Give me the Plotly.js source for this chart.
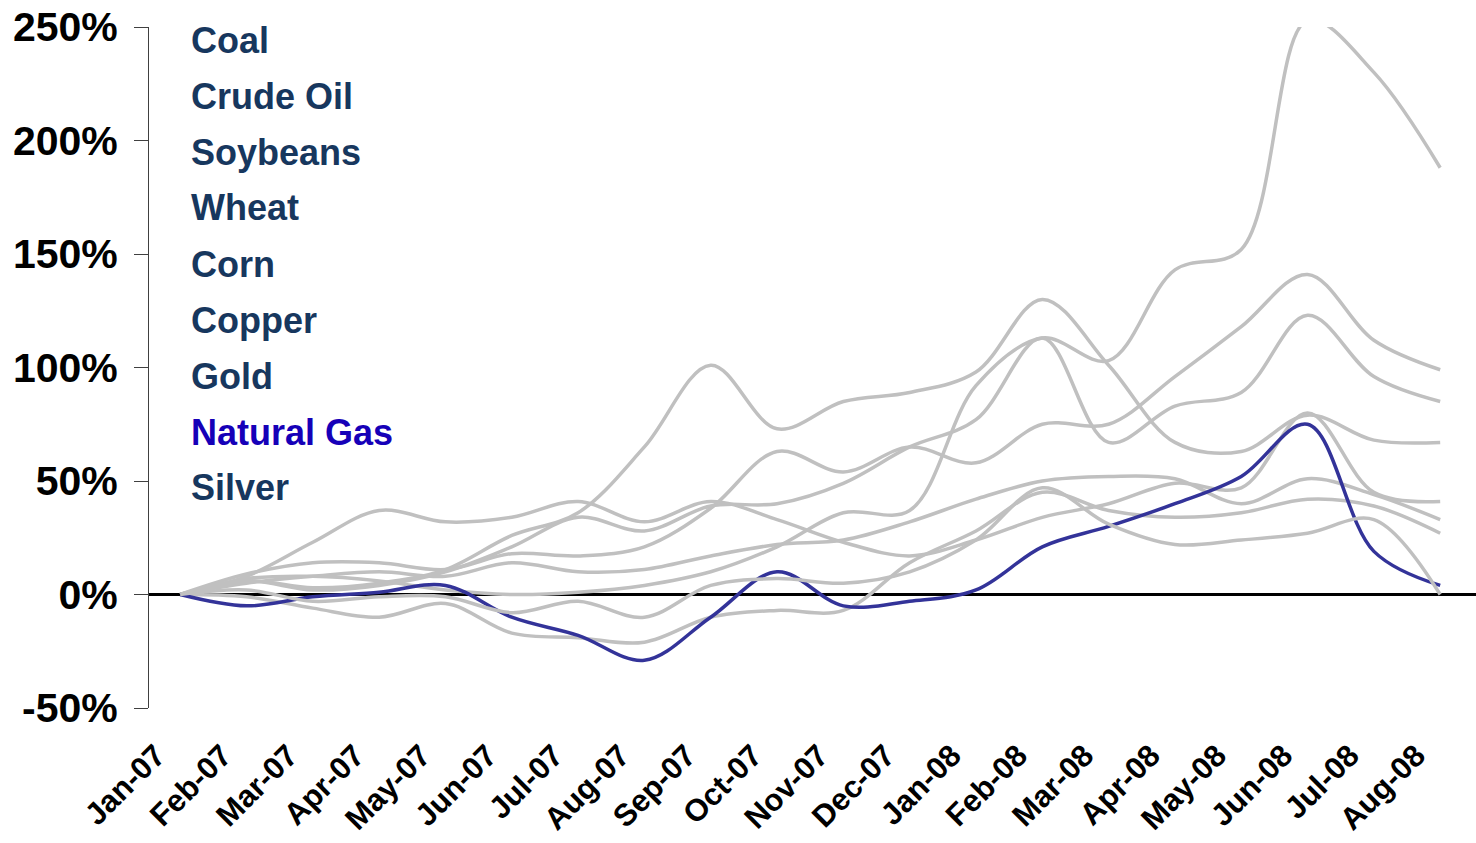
<!DOCTYPE html>
<html>
<head>
<meta charset="utf-8">
<script src="https://cdn.plot.ly/plotly-3.0.1.min.js"></script>
<style>
  html, body { margin: 0; padding: 0; background: #fff; }
  #chart { width: 1476px; height: 843px; }
</style>
</head>
<body>
<div id="chart"></div>
<script>
// ---- data (percent change since Jan-07) ----
const months = ['Jan-07','Feb-07','Mar-07','Apr-07','May-07','Jun-07','Jul-07','Aug-07','Sep-07','Oct-07','Nov-07','Dec-07','Jan-08','Feb-08','Mar-08','Apr-08','May-08','Jun-08','Jul-08','Aug-08'];
const coal     = [0, 7, 8, 6, 2, 0, 1, 4, 10, 21, 36, 37, 92, 113, 103, 143, 152, 253, 230, 188];
const crudeOil = [0, 9, 14, 14, 11, 18, 17, 21, 38, 63, 54, 65, 58, 75, 75, 96, 118, 141, 112, 99];
const soybeans = [0, 6, 2, 4, 10, 21, 34, 28, 39, 40, 49, 65, 77, 113, 67, 83, 89, 123, 96, 85];
const wheat    = [0, 6, 3, 5, 11, 26, 36, 65, 101, 73, 85, 89, 98, 130, 101, 67, 63, 79, 68, 67];
const corn     = [0, 8, 23, 37, 32, 34, 41, 32, 41, 33, 23, 17, 24, 34, 40, 49, 47, 80, 45, 41];
const copper   = [0, 5, 8, 10, 8, 14, 10, 11, 17, 22, 24, 32, 42, 50, 52, 51, 40, 51, 44, 33];
const gold     = [0, -1, -6, -10, -4, -17, -19, -21, -10, -7, -7, 14, 28, 45, 37, 34, 36, 42, 39, 27];
const natGas   = [0, -5, -1, 1, 4, -10, -18, -29, -10, 10, -5, -3, 2, 21, 30, 40, 52, 75, 19, 4];
const silver   = [0, 2, -3, -1, -1, -8, -3, -10, 4, 7, 5, 10, 24, 47, 31, 22, 24, 27, 33, 0];

const seriesNames = ['Coal','Crude Oil','Soybeans','Wheat','Corn','Copper','Gold','Natural Gas','Silver'];
const seriesData  = [coal, crudeOil, soybeans, wheat, corn, copper, gold, natGas, silver];
const yTicks = [-50, 0, 50, 100, 150, 200, 250];
const yTickText = ['-50%', '0%', '50%', '100%', '150%', '200%', '250%'];

// ---- styling ----
const GRAY = '#C0C0C0';
const BLUE = '#333399';
const FONT = 'Liberation Sans, Arial, sans-serif';

const traces = seriesNames.map((name, i) => ({
  type: 'scatter',
  mode: 'lines',
  name: name,
  x: months,
  y: seriesData[i],
  line: { color: name === 'Natural Gas' ? BLUE : GRAY, width: 3.5, shape: 'spline', smoothing: 1 },
  hoverinfo: 'name+y'
}));

// legend-like labels
const plotTop = 27, plotBottom = 708;
const annotations = seriesNames.map((name, i) => {
  const py = 40 + i * 56;
  return {
    xref: 'paper', yref: 'paper',
    x: (189 - 149) / (1476 - 149), xanchor: 'left',
    y: (plotBottom - py) / (plotBottom - plotTop), yanchor: 'middle',
    text: name, showarrow: false,
    font: { family: FONT, size: 36, weight: 'bold', color: name === 'Natural Gas' ? '#1600B8' : '#17375E' }
  };
});

const layout = {
  width: 1476, height: 843,
  margin: { l: 149, r: 0, t: plotTop, b: 843 - plotBottom },
  paper_bgcolor: '#fff', plot_bgcolor: '#fff',
  showlegend: false,
  xaxis: {
    type: 'category',
    range: [-0.47, 19.54],
    showgrid: false, zeroline: false, showline: false,
    ticks: '', tickangle: -45,
    ticklabelstandoff: 22, ticklabelshift: -24,
    tickfont: { family: FONT, size: 31, weight: 'bold', color: '#000' }
  },
  yaxis: {
    range: [-50, 250],
    tickvals: yTicks, ticktext: yTickText,
    ticks: 'outside', ticklen: 14, tickwidth: 1, tickcolor: '#404040',
    showline: true, linecolor: '#404040', linewidth: 1,
    zeroline: true, zerolinecolor: '#000', zerolinewidth: 2.5,
    showgrid: false,
    ticklabelstandoff: 8,
    tickfont: { family: FONT, size: 41, weight: 'bold', color: '#000' }
  },
  annotations: annotations
};

Plotly.newPlot('chart', traces, layout, { displayModeBar: false, staticPlot: true });
</script>
</body>
</html>
